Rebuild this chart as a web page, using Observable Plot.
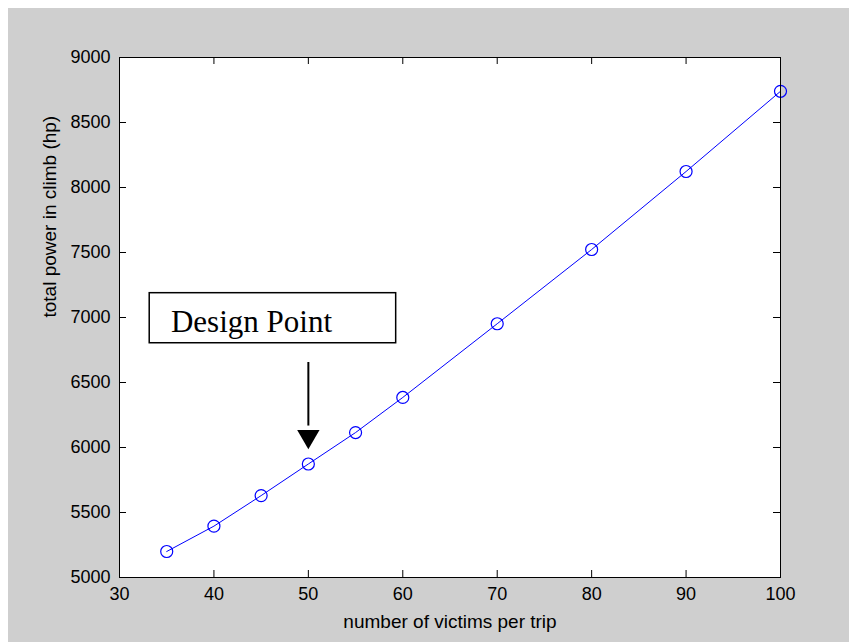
<!DOCTYPE html>
<html>
<head>
<meta charset="utf-8">
<script src="https://cdn.jsdelivr.net/npm/d3@7"></script>
<script src="https://cdn.jsdelivr.net/npm/@observablehq/plot@0.6"></script>
<style>
  html, body { margin: 0; padding: 0; background: #ffffff; }
  #wrap { position: relative; width: 849px; height: 642px; overflow: hidden; }
  #chart { position: absolute; left: 8px; top: 8px; }
  #chart svg { background: #cfcfcf; display: block; }
</style>
</head>
<body>
<div id="wrap"><div id="chart"></div></div>
<script>
// ---- data ----
const victims = [35, 40, 45, 50, 55, 60, 70, 80, 90, 100];
const powerHp = [5200, 5395, 5630, 5873, 6115, 6385, 6952, 7523, 8123, 8740];
const xTicks = [30, 40, 50, 60, 70, 80, 90, 100];
const yTicks = [5000, 5500, 6000, 6500, 7000, 7500, 8000, 8500, 9000];
const xLabel = "number of victims per trip";
const yLabel = "total power in climb (hp)";
// annotation (data units)
const annoText = "Design Point";
const annoBoxX = [33.2, 59.3];
const annoBoxY = [6802, 7187];
const annoTextPos = [35.45, 6885];
const arrowX = 50;
const arrowShaftY = [6654, 6165];
const arrowHeadY = 6085;

const rows = victims.map((v, i) => ({x: v, y: powerHp[i]}));

const W = 841, H = 634;
const mL = 111, mT = 49, mR = 69, mB = 65;
const innerW = W - mL - mR, innerH = H - mT - mB;
const tickLen = 7;
const font = "Arial, 'Liberation Sans', sans-serif";

const chart = Plot.plot({
  width: W,
  height: H,
  marginLeft: mL, marginTop: mT, marginRight: mR, marginBottom: mB,
  style: {fontFamily: font, fontSize: "18px", color: "#000", background: "#cfcfcf"},
  x: {domain: [30, 100], label: null},
  y: {domain: [5000, 9000], label: null},
  marks: [
    Plot.frame({fill: "white", stroke: null}),
    Plot.axisX(xTicks, {anchor: "bottom", tickSize: 0, tickPadding: 10, fontSize: 18, tickFormat: d3.format("d"), label: null}),
    Plot.axisY(yTicks, {anchor: "left", tickSize: 0, tickPadding: 9, fontSize: 18, tickFormat: d3.format("d"), label: null}),
    // inward ticks
    Plot.tickX(xTicks, {x: d => d, insetTop: innerH - tickLen, stroke: "#000"}),
    Plot.tickX(xTicks, {x: d => d, insetBottom: innerH - tickLen, stroke: "#000"}),
    Plot.tickY(yTicks, {y: d => d, insetRight: innerW - tickLen, stroke: "#000"}),
    Plot.tickY(yTicks, {y: d => d, insetLeft: innerW - tickLen, stroke: "#000"}),
    // data
    Plot.line(rows, {x: "x", y: "y", stroke: "#0000ff", strokeWidth: 1}),
    Plot.dot(rows, {x: "x", y: "y", r: 6, stroke: "#0000ff", fill: "none", strokeWidth: 1.2}),
    // annotation
    Plot.rect([0], {x1: annoBoxX[0], x2: annoBoxX[1], y1: annoBoxY[0], y2: annoBoxY[1], fill: "white", stroke: "#000", strokeWidth: 1.5}),
    Plot.text([annoText], {x: annoTextPos[0], y: annoTextPos[1], text: d => d, textAnchor: "start", lineAnchor: "bottom",
      fontFamily: "'Liberation Serif', 'Times New Roman', serif", fontSize: 31, fill: "#000"}),
    Plot.ruleX([arrowX], {x: d => d, y1: arrowShaftY[0], y2: arrowShaftY[1], stroke: "#000", strokeWidth: 2}),
    Plot.dot([arrowX], {x: d => d, y: arrowHeadY, symbol: "triangle", rotate: 180, r: 8.3, fill: "#000", stroke: null}),
    // axis labels
    Plot.text([xLabel], {frameAnchor: "bottom", dy: 50, lineAnchor: "bottom", text: d => d, fontSize: 19, fill: "#000"}),
    Plot.text([yLabel], {frameAnchor: "left", dx: -64, rotate: -90, lineAnchor: "bottom", text: d => d, fontSize: 19, fill: "#000"}),
    Plot.frame({stroke: "#000", strokeWidth: 1})
  ]
});
document.getElementById("chart").appendChild(chart);
</script>
</body>
</html>
